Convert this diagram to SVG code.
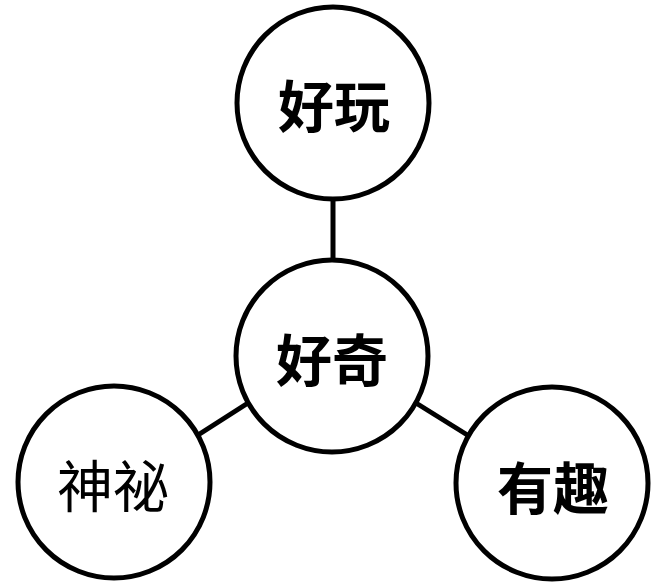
<svg xmlns="http://www.w3.org/2000/svg" width="654" height="584" viewBox="0 0 654 584">
<style>
.node circle{fill:#fff;stroke:#000;stroke-width:5}
.node text{font-family:"Noto Sans CJK SC","Noto Sans CJK TC",sans-serif;font-size:56px;text-anchor:middle;dominant-baseline:central;fill:#000}
.b text{font-weight:bold}
.l text{font-weight:normal}
#edges line{stroke:#000;stroke-width:5}
</style>
<rect width="654" height="584" fill="#fff"/>
<g id="edges">
<line x1="333" y1="200" x2="333" y2="259"/>
<line x1="198" y1="435" x2="248" y2="403"/>
<line x1="416" y1="403" x2="469" y2="436"/>
</g>
<g id="haowan" class="node b"><circle cx="333" cy="103" r="96"/><text x="334" y="102">好玩</text></g>
<g id="haoqi" class="node b"><circle cx="332" cy="356" r="96"/><text x="332" y="356">好奇</text></g>
<g id="shenmi" class="node l"><circle cx="114" cy="482" r="96"/><text x="113" y="482">神祕</text></g>
<g id="youqu" class="node b"><circle cx="552" cy="483" r="96"/><text x="553" y="484">有趣</text></g>
</svg>
